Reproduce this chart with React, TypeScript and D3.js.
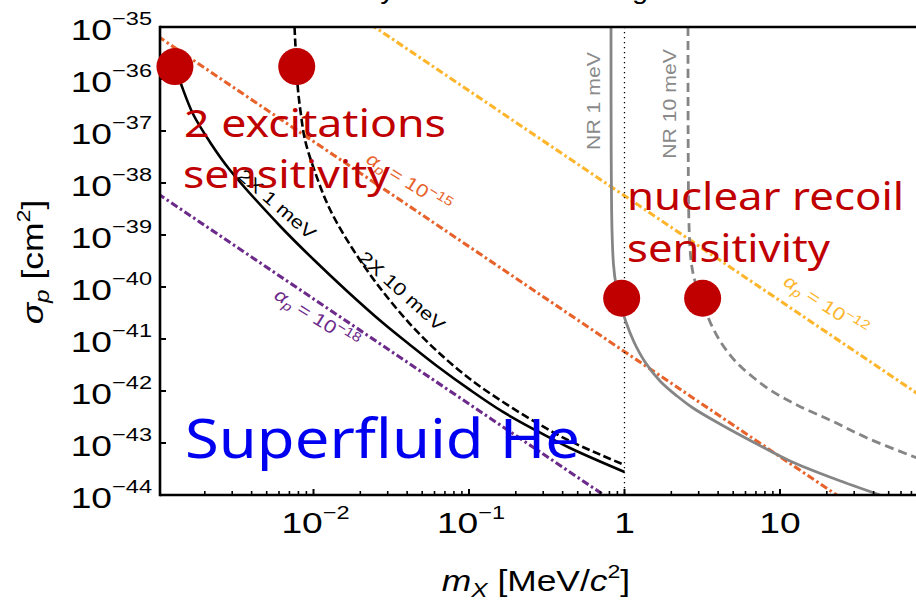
import React from "react";
import * as d3 from "d3";

const W = 916;
const H = 600;

// ---- axes ----
const xDomain = [1.03e-3, 100];
const yDomain = [1e-44, 1e-35];
const xMajorTicks = [1e-2, 1e-1, 1, 10];
const xTickBase = ["10", "10", "1", "10"];
const xTickExp = ["−2", "−1", "", ""];
const yDecadeTicks = [1e-35, 1e-36, 1e-37, 1e-38, 1e-39, 1e-40, 1e-41, 1e-42, 1e-43, 1e-44];
const yTickExp = ["−35", "−36", "−37", "−38", "−39", "−40", "−41", "−42", "−43", "−44"];

// ---- 2X 1 meV (solid black) ----
const mass2x1 = [1.285e-3, 1.406e-3, 1.68e-3, 2.16e-3, 2.9e-3, 6.09e-3, 9.93e-3, 1.64e-2, 2.8e-2, 4.18e-2, 6.22e-2, 0.1015, 0.1655, 0.274, 0.446, 1.0];
const sigma2x1 = [1.7e-36, 8.0e-37, 2.12e-37, 6.1e-38, 1.78e-38, 1.49e-39, 3.45e-40, 8.4e-41, 2.03e-41, 7.7e-42, 3.03e-42, 1.05e-42, 3.95e-43, 1.7e-43, 8.0e-44, 2.77e-44];

// ---- 2X 10 meV (dashed black) ----
const mass2x10 = [7.55e-3, 7.66e-3, 7.78e-3, 7.95e-3, 8.31e-3, 8.82e-3, 1.022e-2, 1.277e-2, 1.795e-2, 2.68e-2, 4.18e-2, 6.22e-2, 0.1015, 0.1655, 0.2737, 0.446, 1.0];
const sigma2x10 = [1e-35, 4.12e-36, 1.7e-36, 6.14e-37, 2.03e-37, 6.71e-38, 1.63e-38, 3.09e-39, 5.26e-40, 9.57e-41, 1.94e-41, 5.88e-42, 1.7e-42, 6.14e-43, 2.43e-43, 1.09e-43, 3.78e-44];

// ---- NR 1 meV (solid gray) ----
const massNR1 = [0.819, 0.821, 0.831, 0.85, 0.882, 0.936, 1.022, 1.151, 1.355, 1.691, 2.176, 2.757, 4.113, 6.907, 11.6, 22.6, 43.97];
const sigmaNR1 = [1e-35, 4.31e-38, 1.25e-39, 2.65e-40, 1.09e-40, 5.15e-41, 2.12e-41, 8.75e-42, 3.61e-42, 1.56e-42, 8.0e-43, 4.71e-43, 2.32e-43, 1.0e-43, 4.51e-44, 2.03e-44, 1e-44];

// ---- NR 10 meV (dashed gray) ----
const massNR10 = [2.561, 2.568, 2.599, 2.657, 2.757, 2.926, 3.198, 3.6, 4.236, 5.291, 6.805, 8.626, 12.86, 21.6, 36.3, 70.6, 100];
const sigmaNR10 = [1e-35, 4.31e-38, 1.56e-39, 4.12e-40, 1.86e-40, 9.57e-41, 4.71e-41, 1.94e-41, 8.01e-42, 3.45e-42, 1.78e-42, 1.05e-42, 5.38e-43, 2.65e-43, 1.25e-43, 5.62e-44, 3.78e-44];

// ---- alpha_p reference lines ----
const massAlpha = [1e-3, 100];
const sigmaAlpha12 = [6.5e-33, 5.2e-43];
const sigmaAlpha15 = [6.6e-36, 5.2e-46];
const sigmaAlpha18 = [6.2e-39, 4.9e-49];

// ---- red markers ----
const dotMass = [1.285e-3, 7.8e-3, 0.959, 3.18];
const dotSigma = [1.73e-36, 1.73e-36, 6.07e-41, 6.07e-41];

const AX_FONT = "'Liberation Sans', Arial, Helvetica, sans-serif";
const SCRIPT_FONT = "'Noto Sans', 'Open Sans', sans-serif";
const STRETCH = 1.22;
const DASHDOT = "7.5,3,2.5,3";

function SText(props: any) {
  const { x, y, rotate = 0, sx = STRETCH, children, ...rest } = props;
  return (
    <g transform={`translate(${x},${y}) rotate(${rotate}) scale(${sx},1)`}>
      <text x={0} y={0} fontFamily={AX_FONT} {...rest}>
        {children}
      </text>
    </g>
  );
}

function AlphaLabel({ x, y, rotate, color, exp }: any) {
  return (
    <SText x={x} y={y} rotate={rotate} fill={color} fontSize={18} textAnchor="middle" dy="0.35em" sx={1.2}>
      <tspan fontStyle="italic">α</tspan>
      <tspan fontSize={13} dy={4} fontStyle="italic">p</tspan>
      <tspan dy={-4}> = 10</tspan>
      <tspan fontSize={13} dy={-7}>{exp}</tspan>
    </SText>
  );
}

export default function App() {
  const x = d3.scaleLog().domain(xDomain).range([160, 935.5]);
  const y = d3.scaleLog().domain(yDomain).range([495, 27]);
  const line = d3
    .line<[number, number]>()
    .x((d) => x(d[0]))
    .y((d) => y(d[1]))
    .curve(d3.curveCatmullRom.alpha(0.5));
  const straight = d3
    .line<[number, number]>()
    .x((d) => x(d[0]))
    .y((d) => y(d[1]));
  const zip = (a: number[], b: number[]) => a.map((v, i) => [v, b[i]] as [number, number]);

  const minorTicks: number[] = [];
  for (let e = -3; e <= 1; e++) {
    for (let k = 2; k <= 9; k++) {
      const m = k * Math.pow(10, e);
      if (m > xDomain[0] && m < xDomain[1]) minorTicks.push(m);
    }
  }

  const left = x(xDomain[0]);
  const right = x(xDomain[1]);
  const top = y(yDomain[1]);
  const bottom = y(yDomain[0]);

  return (
    <svg
      width={W}
      height={H}
      viewBox={`0 0 ${W} ${H}`}
      style={{ position: "absolute", left: 0, top: 0, background: "#fff", display: "block" }}
    >
      <defs>
        <clipPath id="plotClip">
          <rect x={left} y={top} width={right - left} height={bottom - top} />
        </clipPath>
      </defs>

      {/* title (cropped at top, as in the reference) */}
      <text x={313} y={-1.5} fontFamily={AX_FONT} fontSize={26} textLength={335} lengthAdjust="spacingAndGlyphs">
        Heavy mediator scattering
      </text>

      <g clipPath="url(#plotClip)" fill="none">
        {/* alpha_p lines */}
        <path d={straight(zip(massAlpha, sigmaAlpha12)) || ""} stroke="#FDB52B" strokeWidth={3.1} strokeDasharray={DASHDOT} />
        <path d={straight(zip(massAlpha, sigmaAlpha15)) || ""} stroke="#E8632B" strokeWidth={3.1} strokeDasharray={DASHDOT} />
        <path d={straight(zip(massAlpha, sigmaAlpha18)) || ""} stroke="#6C2A8A" strokeWidth={3.1} strokeDasharray={DASHDOT} />

        {/* dotted m = 1 MeV */}
        <line x1={x(1)} x2={x(1)} y1={top} y2={bottom} stroke="#000" strokeWidth={1.3} strokeDasharray="1.3,3.7" />

        {/* NR curves */}
        <path d={line(zip(massNR1, sigmaNR1)) || ""} stroke="#858585" strokeWidth={2.8} />
        <path d={line(zip(massNR10, sigmaNR10)) || ""} stroke="#858585" strokeWidth={2.8} strokeDasharray="9,5" />

        {/* 2 excitation curves */}
        <path d={line(zip(mass2x10, sigma2x10)) || ""} stroke="#000" strokeWidth={2.6} strokeDasharray="8,3.5" />
        <path d={line(zip(mass2x1, sigma2x1)) || ""} stroke="#000" strokeWidth={2.6} />
      </g>

      {/* curve labels */}
      <SText x={277} y={204} rotate={41} fontSize={18} textAnchor="middle" dy="0.35em" fill="#000">
        2X 1 meV
      </SText>
      <SText x={402} y={291} rotate={42} fontSize={18} textAnchor="middle" dy="0.35em" fill="#000">
        2X 10 meV
      </SText>
      <SText x={594} y={101} rotate={-90} fontSize={18} textAnchor="middle" dy="0.35em" fill="#8a8a8a" sx={1.18}>
        NR 1 meV
      </SText>
      <SText x={670} y={104} rotate={-90} fontSize={18} textAnchor="middle" dy="0.35em" fill="#8a8a8a" sx={1.18}>
        NR 10 meV
      </SText>
      <AlphaLabel x={409} y={182} rotate={32} color="#E8632B" exp="−15" />
      <AlphaLabel x={317} y={318} rotate={32} color="#6C2A8A" exp="−18" />
      <AlphaLabel x={826} y={305} rotate={33} color="#FDB52B" exp="−12" />

      {/* frame */}
      <g stroke="#000" strokeWidth={2.6} fill="none">
        <line x1={left} x2={right} y1={top} y2={top} />
        <line x1={left} x2={left} y1={top - 1.3} y2={bottom + 1.3} />
        <line x1={left} x2={right} y1={bottom} y2={bottom} />
      </g>

      {/* y ticks */}
      {yDecadeTicks.map((v, i) => (
        <g key={"yt" + i}>
          <line x1={left} x2={left + 6} y1={y(v)} y2={y(v)} stroke="#000" strokeWidth={2} />
          <SText x={152} y={y(v) + 13} fontSize={30} textAnchor="end" fill="#000" sx={1.24}>
            10
            <tspan fontSize={19} dy={-15}>
              {yTickExp[i]}
            </tspan>
          </SText>
        </g>
      ))}

      {/* x ticks */}
      {minorTicks.map((m, i) => (
        <line key={"mn" + i} x1={x(m)} x2={x(m)} y1={bottom} y2={bottom - 4} stroke="#000" strokeWidth={1.6} />
      ))}
      {xMajorTicks.map((m, i) => (
        <g key={"xt" + i}>
          <line x1={x(m)} x2={x(m)} y1={bottom} y2={bottom - 6} stroke="#000" strokeWidth={2} />
          <SText x={x(m) + (xTickExp[i] ? 2 : 0)} y={533} fontSize={30} textAnchor="middle" fill="#000" sx={1.24}>
            {xTickBase[i]}
            {xTickExp[i] ? (
              <tspan fontSize={19} dy={-14}>
                {xTickExp[i]}
              </tspan>
            ) : null}
          </SText>
        </g>
      ))}

      {/* axis titles */}
      <SText x={536} y={591} fontSize={29} textAnchor="middle" fill="#000" sx={1.22}>
        <tspan fontStyle="italic">m</tspan>
        <tspan fontSize={20} fontStyle="italic" dy={6}>
          X
        </tspan>
        <tspan dy={-6}> [MeV/</tspan>
        <tspan fontStyle="italic">c</tspan>
        <tspan fontSize={19} dy={-13}>
          2
        </tspan>
        <tspan dy={13}>]</tspan>
      </SText>
      <SText x={43} y={262} rotate={-90} fontSize={29} textAnchor="middle" fill="#000" sx={1.22}>
        <tspan fontStyle="italic">σ</tspan>
        <tspan fontSize={20} fontStyle="italic" dy={6}>
          p
        </tspan>
        <tspan dy={-6}> [cm</tspan>
        <tspan fontSize={19} dy={-13}>
          2
        </tspan>
        <tspan dy={13}>]</tspan>
      </SText>

      {/* red markers */}
      {dotMass.map((m, i) => (
        <circle key={"dot" + i} cx={x(m)} cy={y(dotSigma[i])} r={18.5} fill="#C00000" />
      ))}

      {/* annotations */}
      <text x={184} y={137} fontFamily={SCRIPT_FONT} fontSize={38} fill="#C00000" textLength={262} lengthAdjust="spacingAndGlyphs">
        2 excitations
      </text>
      <text x={183} y={188} fontFamily={SCRIPT_FONT} fontSize={38} fill="#C00000" textLength={207} lengthAdjust="spacingAndGlyphs">
        sensitivity
      </text>
      <text x={627} y={210} fontFamily={SCRIPT_FONT} fontSize={38} fill="#C00000" textLength={277} lengthAdjust="spacingAndGlyphs">
        nuclear recoil
      </text>
      <text x={627} y={262} fontFamily={SCRIPT_FONT} fontSize={38} fill="#C00000" textLength={203} lengthAdjust="spacingAndGlyphs">
        sensitivity
      </text>
      <text x={185} y={458} fontFamily={SCRIPT_FONT} fontSize={54} fill="#0000F0" textLength={395} lengthAdjust="spacingAndGlyphs">
        Superfluid He
      </text>
    </svg>
  );
}
